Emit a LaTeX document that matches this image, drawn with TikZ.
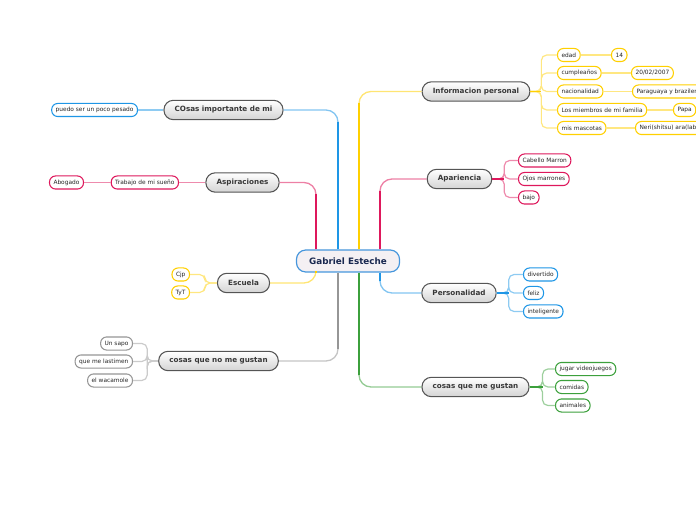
\documentclass[tikz,border=0pt]{standalone}
\usepackage{fontspec}
\setmainfont{DejaVu Sans}
\usetikzlibrary{positioning,calc}

\definecolor{mmYellow}{RGB}{255,208,0}
\definecolor{mmCrimson}{RGB}{222,24,92}
\definecolor{mmBlue}{RGB}{30,150,230}
\definecolor{mmGreen}{RGB}{60,160,60}
\definecolor{mmGray}{RGB}{150,150,150}
\definecolor{mmRootLine}{RGB}{70,150,220}
\definecolor{mmRootFill}{RGB}{244,240,243}
\definecolor{mmRootText}{RGB}{25,40,80}
\definecolor{mmTopicLine}{RGB}{85,85,85}

\tikzset{
  root/.style={draw=mmRootLine, line width=0.9pt, fill=mmRootFill, rounded corners=7pt,
    text=mmRootText, font=\fontsize{6.6}{8}\selectfont\bfseries,
    inner xsep=9.5pt, minimum height=16.5pt},
  topic/.style={draw=mmTopicLine, line width=0.8pt, top color=white, bottom color=black!17,
    rounded corners=7pt, text=black!78, font=\fontsize{5.4}{6.5}\selectfont\bfseries,
    inner xsep=8pt, minimum height=14.5pt},
  leaf/.style={draw=#1, line width=0.8pt, fill=white, rounded corners=4.5pt,
    font=\fontsize{4.4}{5.3}\selectfont, text=black!85,
    inner xsep=3pt, inner ysep=1pt, minimum height=9.8pt},
  trunk/.style={draw=#1!55, line width=1pt, rounded corners=9pt},
  stem/.style={draw=#1, line width=2pt, shorten >=9pt},
  stub/.style={draw=#1, line width=1.4pt},
  twig/.style={draw=#1!50, line width=0.9pt, rounded corners=4pt}
}

\begin{document}
\begin{tikzpicture}[x=0.75pt, y=-0.75pt]
\useasboundingbox (0,0) rectangle (696,520);
\clip (0,0) rectangle (696,520);

% ================= CENTRE =================
\node[root] (gab) at (348,261) {Gabriel Esteche};

% ================= MAIN TOPICS =================
\node[topic] (info) at (476,91.5) {Informacion personal};
\node[topic] (apa)  at (459.5,179) {Apariencia};
\node[topic] (pers) at (459,293) {Personalidad};
\node[topic] (gust) at (475.5,387) {cosas que me gustan};
\node[topic] (imp)  at (223.5,110) {COsas importante de mi};
\node[topic] (asp)  at (242.5,182.5) {Aspiraciones};
\node[topic] (esc)  at (243.5,283) {Escuela};
\node[topic] (nogu) at (218.5,361) {cosas que no me gustan};

% Branch roots on the centre box
\coordinate (tAsp)  at (316,0 |- gab.north);
\coordinate (tImp)  at (338,0 |- gab.north);
\coordinate (tInfo) at (359,0 |- gab.north);
\coordinate (tApa)  at (380,0 |- gab.north);
\coordinate (tEsc)  at (316,0 |- gab.south);
\coordinate (tNogu) at (338,0 |- gab.south);
\coordinate (tGust) at (359,0 |- gab.south);
\coordinate (tPers) at (380,0 |- gab.south);

% Trunks
\draw[trunk=mmCrimson] (tAsp) |- (asp.east);
\draw[stem=mmCrimson] (tAsp) -- (tAsp |- asp.east);
\draw[trunk=mmBlue] (tImp) |- (imp.east);
\draw[stem=mmBlue] (tImp) -- (tImp |- imp.east);
\draw[trunk=mmYellow] (tInfo) |- (info.west);
\draw[stem=mmYellow] (tInfo) -- (tInfo |- info.west);
\draw[trunk=mmCrimson] (tApa) |- (apa.west);
\draw[stem=mmCrimson] (tApa) -- (tApa |- apa.west);
\draw[trunk=mmYellow] (tEsc) |- (esc.east);
\draw[stem=mmYellow] (tEsc) -- (tEsc |- esc.east);
\draw[trunk=mmGray] (tNogu) |- (nogu.east);
\draw[stem=mmGray] (tNogu) -- (tNogu |- nogu.east);
\draw[trunk=mmGreen] (tGust) |- (gust.west);
\draw[stem=mmGreen] (tGust) -- (tGust |- gust.west);
\draw[trunk=mmBlue] (tPers) |- (pers.west);
\draw[stem=mmBlue] (tPers) -- (tPers |- pers.west);

% ================= INFORMACION PERSONAL =================
\node[leaf=mmYellow, anchor=west] (edad)     at (557,55)  {edad};
\node[leaf=mmYellow, anchor=west] (cumple)   at (557,73)  {cumpleaños};
\node[leaf=mmYellow, anchor=west] (nac)      at (557,91.5){nacionalidad};
\node[leaf=mmYellow, anchor=west] (familia)  at (557,110) {Los miembros de mi familia};
\node[leaf=mmYellow, anchor=west] (mascotas) at (557,128) {mis mascotas};

\node[leaf=mmYellow, anchor=west] (edadval)     at (611,55)  {14};
\node[leaf=mmYellow, anchor=west] (cumpleval)   at (631,73)  {20/02/2007};
\node[leaf=mmYellow, anchor=west] (nacval)      at (632,91.5){Paraguaya y brazilera};
\node[leaf=mmYellow, anchor=west] (familiaval)  at (673,110) {Papa};
\node[leaf=mmYellow, anchor=west] (mascotasval) at (635,128) {Neri(shitsu) ara(labrador)};

\foreach \c in {edad,cumple,nac,familia,mascotas}
  \draw[twig=mmYellow] (info.east) -- ++(11,0) |- (\c.west);
\draw[stub=mmYellow] (info.east) -- ++(11,0);
\foreach \c in {edad,cumple,nac,familia,mascotas}
  \draw[twig=mmYellow] (\c.east) -- (\c val.west);

% ================= APARIENCIA =================
\node[leaf=mmCrimson, anchor=west] (cabello) at (518,160.5) {Cabello Marron};
\node[leaf=mmCrimson, anchor=west] (ojos)    at (518,179)   {Ojos marrones};
\node[leaf=mmCrimson, anchor=west] (bajo)    at (518,197.5) {bajo};
\foreach \c in {cabello,ojos,bajo}
  \draw[twig=mmCrimson] (apa.east) -- ++(12,0) |- (\c.west);
\draw[stub=mmCrimson] (apa.east) -- ++(12,0);

% ================= PERSONALIDAD =================
\node[leaf=mmBlue, anchor=west] (divertido) at (523,274.5) {divertido};
\node[leaf=mmBlue, anchor=west] (feliz)     at (523,293)   {feliz};
\node[leaf=mmBlue, anchor=west] (intel)     at (523,311.5) {inteligente};
\foreach \c in {divertido,feliz,intel}
  \draw[twig=mmBlue] (pers.east) -- ++(12,0) |- (\c.west);
\draw[stub=mmBlue] (pers.east) -- ++(12,0);

% ================= COSAS QUE ME GUSTAN =================
\node[leaf=mmGreen, anchor=west] (juegos)   at (555,369)   {jugar videojuegos};
\node[leaf=mmGreen, anchor=west] (comidas)  at (555,387)   {comidas};
\node[leaf=mmGreen, anchor=west] (animales) at (555,405.5) {animales};
\foreach \c in {juegos,comidas,animales}
  \draw[twig=mmGreen] (gust.east) -- ++(13,0) |- (\c.west);
\draw[stub=mmGreen] (gust.east) -- ++(13,0);

% ================= LEFT SIDE =================
\node[leaf=mmBlue, anchor=east] (pesado) at (138,110) {puedo ser un poco pesado};
\draw[twig=mmBlue] (imp.west) -- (pesado.east);

\node[leaf=mmCrimson, anchor=east] (trabajo) at (179,182.5) {Trabajo de mi sueño};
\node[leaf=mmCrimson, anchor=east] (abogado) at (84,182.5)  {Abogado};
\draw[twig=mmCrimson] (asp.west) -- (trabajo.east);
\draw[twig=mmCrimson] (trabajo.west) -- (abogado.east);

\node[leaf=mmYellow, anchor=east] (cjp) at (190,274.5) {Cjp};
\node[leaf=mmYellow, anchor=east] (tyt) at (190,292.5) {TyT};
\foreach \c in {cjp,tyt}
  \draw[twig=mmYellow] (esc.west) -- ++(-12,0) |- (\c.east);

\node[leaf=mmGray, anchor=east] (sapo)     at (133,343.5) {Un sapo};
\node[leaf=mmGray, anchor=east] (lastimen) at (133,361.5) {que me lastimen};
\node[leaf=mmGray, anchor=east] (wacamole) at (133,380.5) {el wacamole};
\foreach \c in {sapo,lastimen,wacamole}
  \draw[twig=mmGray] (nogu.west) -- ++(-11,0) |- (\c.east);

\end{tikzpicture}
\end{document}
